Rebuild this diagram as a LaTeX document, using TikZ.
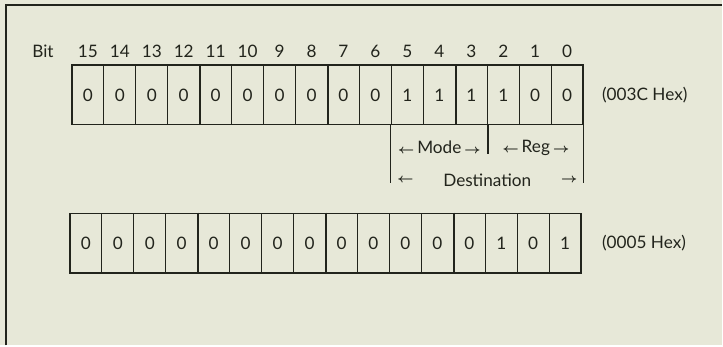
\documentclass[tikz,border=0pt]{standalone}
\usepackage{fontspec}
\setmainfont{Lato}
\usetikzlibrary{calc}
\definecolor{paper}{RGB}{231,232,216}
\definecolor{ink}{RGB}{34,36,28}
\newcommand{\lar}{{\boldmath$\scriptstyle\leftarrow$}}
\newcommand{\rar}{{\boldmath$\scriptstyle\rightarrow$}}

\begin{document}
\begin{tikzpicture}[x=0.5pt,y=-0.5pt,
    cell/.style={draw=ink,line width=0.65pt,minimum width=16pt,minimum height=30pt,
      inner sep=0pt,text=ink,font=\fontsize{8.6}{10}\selectfont},
    lbl/.style={text=ink,inner sep=0pt,font=\fontsize{8.6}{10}\selectfont},
    nibble/.style={draw=ink,line width=1.1pt},
    field/.style={draw=ink,line width=0.65pt}]
  \fill[paper] (0,0) rectangle (723,346);
  \draw[ink,line width=1.1pt] (6,346) -- (6,5) -- (723,5);

  \node[lbl] (bit) at (43,51) {Bit};
  \foreach \b/\va/\vb in {15/0/0,14/0/0,13/0/0,12/0/0,11/0/0,10/0/0,9/0/0,8/0/0,
                          7/0/0,6/0/0,5/1/0,4/1/0,3/1/0,2/1/1,1/0/0,0/0/1}{
    \node[lbl] (n\b) at ({88+32*(15-\b)},51) {\b};
    \node[cell] (a\b) at ({88+32*(15-\b)},95) {\va};
    \node[cell] (b\b) at ({86+32*(15-\b)},243.5) {\vb};
  }
  \foreach \b in {12,8,4}{
    \draw[nibble] (a\b.north east) -- (a\b.south east);
    \draw[nibble] (b\b.north east) -- (b\b.south east);
  }
  \node[lbl,anchor=west] (hexa) at ($(a0.east)+(18,0)$) {(003C Hex)};
  \node[lbl,anchor=west] (hexb) at ($(b0.east)+(20,0)$) {(0005 Hex)};

  \coordinate (dl) at ($(a5.south west)+(0,58)$);
  \coordinate (dr) at ($(a0.south east)+(0,58)$);
  \coordinate (dm) at ($(a3.south east)+(0,29)$);
  \draw[field] (a5.south west) -- (dl);
  \draw[field] (a0.south east) -- (dr);
  \draw[field] (a3.south east) -- (dm);
  \node[lbl] (mode) at ($(a5.south west)!0.5!(a3.south east)+(0,22)$) {\lar\,Mode\,\rar};
  \node[lbl] (reg) at ($(a3.south east)!0.5!(a0.south east)+(0,22)$) {\lar\,Reg\,\rar};
  \node[lbl] (dest) at ($(a5.south west)!0.5!(a0.south east)+(0,55)$) {Destination};
  \node[lbl,anchor=west] (destl) at ($(dl)+(6,-3)$) {\lar};
  \node[lbl,anchor=east] (destr) at ($(dr)+(-6,-3)$) {\rar};
\end{tikzpicture}
\end{document}
